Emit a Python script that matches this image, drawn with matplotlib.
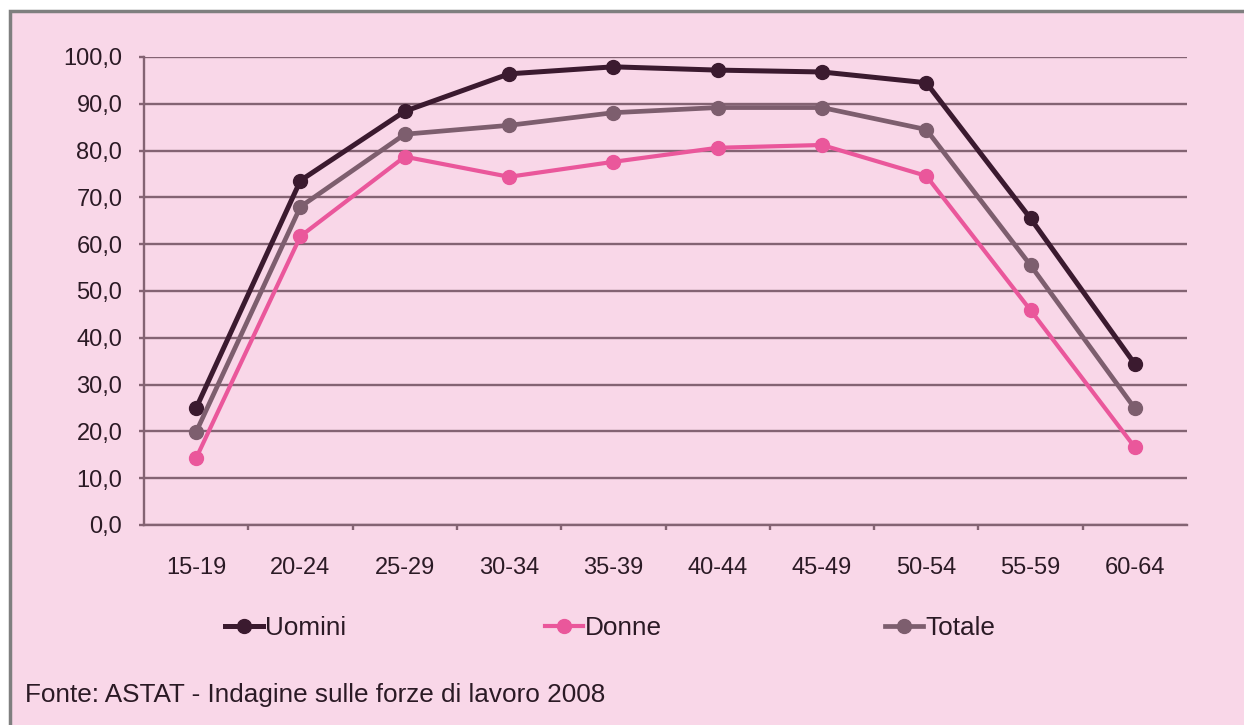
import matplotlib
matplotlib.use("Agg")
import matplotlib.pyplot as plt
from matplotlib.patches import Rectangle
from matplotlib.lines import Line2D
from matplotlib.ticker import FuncFormatter

# Tasso di attività per classe di età (%)
eta = ["15-19", "20-24", "25-29", "30-34", "35-39",
       "40-44", "45-49", "50-54", "55-59", "60-64"]
uomini = [25.0, 73.6, 88.4, 96.4, 97.9, 97.2, 96.8, 94.5, 65.5, 34.4]
donne = [14.3, 61.7, 78.7, 74.4, 77.6, 80.6, 81.2, 74.6, 45.9, 16.6]
totale = [19.9, 68.0, 83.5, 85.4, 88.1, 89.2, 89.2, 84.5, 55.5, 24.9]
yticks = [0, 10, 20, 30, 40, 50, 60, 70, 80, 90, 100]

plt.rcParams["font.family"] = ["Liberation Sans", "DejaVu Sans"]

BG = "#f9d7e8"
GRID = "#846373"
TXT = "#2b1a25"
C_U = "#3b1a2f"
C_D = "#ea579b"
C_T = "#7d5e6e"

W, H = 1244, 725
fig = plt.figure(figsize=(W / 100, H / 100), dpi=100)
fig.patch.set_facecolor("white")

# Riquadro rosa con bordo grigio, dietro al grafico
fig.patches.append(Rectangle((10 / W, -0.01), 1.02, 1 - 11 / H + 0.01,
                             transform=fig.transFigure, facecolor=BG,
                             edgecolor="#7f7f7f", linewidth=2.5, zorder=-5))

ax = fig.add_axes([144 / W, 1 - 525 / H, (1187 - 144) / W, (525 - 57) / H])
ax.set_facecolor("none")
ax.set_zorder(2)

x = list(range(len(eta)))
for vals, col, lw in [(uomini, C_U, 3.6), (totale, C_T, 3.4), (donne, C_D, 3.0)]:
    ax.plot(x, vals, color=col, lw=lw, marker="o", markersize=10,
            markerfacecolor=col, markeredgecolor=col, zorder=3,
            solid_joinstyle="round")

ax.set_xlim(-0.5, len(eta) - 0.5)
ax.set_ylim(0, 100)
ax.set_yticks(yticks)
ax.yaxis.set_major_formatter(FuncFormatter(lambda v, p: f"{v:.1f}".replace(".", ",")))
ax.set_xticks(x)
ax.set_xticklabels(eta)
ax.set_xticks([i + 0.5 for i in x[:-1]], minor=True)

ax.grid(axis="y", color=GRID, linewidth=1.7, zorder=1)
for s in ["top", "right"]:
    ax.spines[s].set_visible(False)
ax.spines["left"].set_color(GRID)
ax.spines["left"].set_linewidth(1.7)
ax.spines["bottom"].set_color(GRID)
ax.spines["bottom"].set_linewidth(1.7)

ax.tick_params(axis="y", length=3.6, width=1.7, color=GRID, labelsize=17,
               labelcolor=TXT, pad=12)
ax.tick_params(axis="x", which="major", length=0, labelsize=17,
               labelcolor=TXT, pad=23)
ax.tick_params(axis="x", which="minor", length=3.6, width=1.7, color=GRID)

# Legenda: tre voci distribuite sulla riga
legend_pos = [(225, "Uomini", C_U, 3.6), (545, "Donne", C_D, 3.0),
              (885, "Totale", C_T, 3.4)]
for px, lab, col, lw in legend_pos:
    h = Line2D([], [], color=col, lw=lw, marker="o", markersize=10,
               markerfacecolor=col, markeredgecolor=col)
    leg = fig.legend([h], [lab], loc="center left",
                     bbox_to_anchor=(px / W, 1 - 628 / H),
                     frameon=False, fontsize=18.8, handlelength=1.45,
                     handletextpad=0.08, borderaxespad=0, borderpad=0)
    for t in leg.get_texts():
        t.set_color(TXT)

fig.text(25 / W, 1 - 695 / H, "Fonte: ASTAT - Indagine sulle forze di lavoro 2008",
         fontsize=18.8, color=TXT, ha="left", va="center")

fig.savefig("out.png", dpi=100, facecolor=fig.get_facecolor())
